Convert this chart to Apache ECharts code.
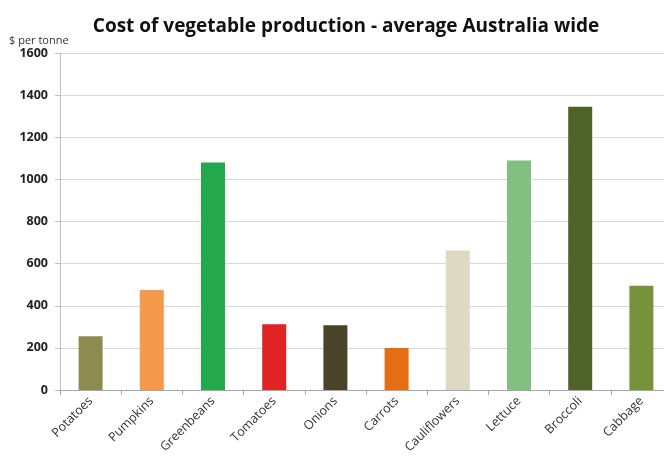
<!DOCTYPE html>
<html><head><meta charset="utf-8">
<script src="https://cdn.jsdelivr.net/npm/echarts@6/dist/echarts.min.js"></script>
<style>html,body{margin:0;padding:0;background:#fff;overflow:hidden}#c{width:664px;height:468px}</style>
</head><body><div id="c"></div>
<script>
const categories = ['Potatoes','Pumpkins','Greenbeans','Tomatoes','Onions','Carrots','Cauliflowers','Lettuce','Broccoli','Cabbage'];
const values = [255, 475, 1080, 312, 307, 200, 662, 1090, 1345, 495];
const colors = ['#8F8A50','#F5994A','#23A84E','#E02323','#4A4529','#E56E14','#DDD9C3','#82C07F','#4F6228','#76933C'];
const yTicks = [0,200,400,600,800,1000,1200,1400,1600];

const chart = echarts.init(document.getElementById('c'));
chart.setOption({
  animation:false,
  title:{text:'Cost of vegetable production - average Australia wide',left:341,top:12,textAlign:'center',
    textStyle:{fontFamily:'Open Sans',fontWeight:'bold',fontSize:19,color:'#111'}},
  graphic:[{type:'text',left:9,top:35,style:{text:'$ per tonne',fontFamily:'Open Sans',fontSize:11,fill:'#333'}}],
  grid:{left:60,width:612,top:53,height:337,outerBoundsMode:'none',containLabel:false},
  xAxis:{type:'category',data:categories,
    axisLine:{lineStyle:{color:'#a6a6a6'}},
    axisTick:{show:true,length:5,lineStyle:{color:'#a6a6a6'}},
    axisLabel:{rotate:45,fontFamily:'Open Sans',fontSize:12.5,color:'#333',margin:9}},
  yAxis:{type:'value',min:0,max:1600,interval:200,
    axisLine:{show:true,lineStyle:{color:'#bfbfbf'}},
    axisTick:{show:true,length:5,lineStyle:{color:'#bfbfbf'}},
    splitLine:{lineStyle:{color:'#d9d9d9'}},
    axisLabel:{fontFamily:'Open Sans',fontWeight:'bold',fontSize:12.5,color:'#222',margin:12,
      formatter:v=>yTicks.includes(v)?String(v):''}},
  series:[{type:'bar',barWidth:24,
    data:values.map((v,i)=>({value:v,itemStyle:{color:colors[i]}}))}]
});
</script></body></html>
